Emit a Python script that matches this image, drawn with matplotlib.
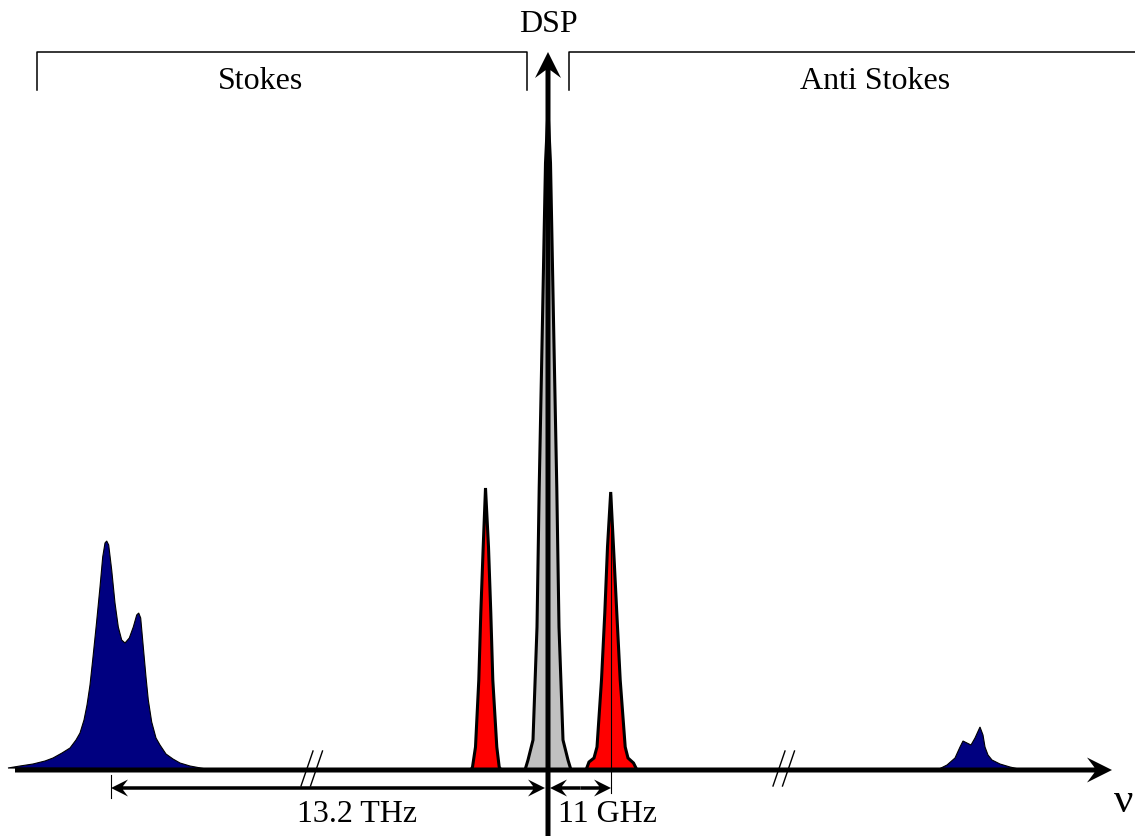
import matplotlib.pyplot as plt
from matplotlib.patches import FancyArrow

# Spectral lines: column position and height above the baseline
stokes_x = [8, 20, 33, 45, 53, 62, 70, 76, 80, 84, 87, 90, 93, 96.5, 100, 102.7, 105,
            106.7, 108.7, 111.7, 115, 118.3, 121.7, 125, 129.3, 133.3, 136.7, 138.7,
            140.7, 143.3, 146, 148.3, 151.7, 156, 160, 166, 173, 180, 190, 206]
stokes_h = [2, 4, 6, 9, 12, 17, 22, 30, 37, 50, 65, 85, 113, 147, 183, 213, 227,
            229, 225, 200, 167, 143, 130, 127, 132, 143, 155, 157,
            152, 123, 93, 70, 48, 32, 25, 16, 11, 7, 4, 1]

antistokes_x = [937, 947, 955, 960, 963, 967, 971, 975, 980, 983, 985, 988, 992, 1000, 1010, 1023]
antistokes_h = [0, 5, 12, 23, 29, 27, 25, 32, 43, 35, 23, 15, 10, 6, 3, 0]

brillouin_s_x = [471, 472.5, 475.5, 478.8, 480.8, 483.2, 485.5, 488.5, 490.8, 492.8, 496.8, 499.2, 501]
brillouin_s_h = [0, 3, 23, 90, 157, 223, 282, 223, 157, 90, 23, 3, 0]

brillouin_as_x = [586, 589, 594, 597, 601.5, 604.8, 607.5, 610.7, 613.5, 616.8, 620.2,
                  625.2, 628, 633.5, 637]
brillouin_as_h = [0, 8, 12, 23, 90, 157, 223, 278, 223, 157, 90, 23, 12, 7, 0]

pump_x = [525, 528, 533, 537, 539.2, 542.5, 544.2, 545.5, 548, 550.5, 551.8, 553.5,
          556.8, 559, 563, 568, 571]
pump_h = [0, 10, 30, 143, 282, 450, 540, 607, 660, 607, 540, 450, 282, 143, 30, 10, 0]

# Frequency shift markers (Raman and Brillouin)
pump_pos = 548
raman_pos = 111
brillouin_pos = 611
break_pos = [312, 784]

region_labels = ["Stokes", "Anti Stokes"]
shift_labels = ["13.2 THz", "11 GHz"]

FONT = "Liberation Serif"

fig = plt.figure(figsize=(11.35, 8.36), dpi=100)
ax = fig.add_axes([0, 0, 1, 1])
ax.set_xlim(0, 1135)
ax.set_ylim(-66, 770)
ax.axis("off")


def arrow(x0, y0, dx, dy, width, head):
    ax.add_patch(FancyArrow(x0, y0, dx, dy, width=width, head_width=head,
                            head_length=head, length_includes_head=True,
                            overhang=0.3, color="black", lw=0, zorder=6))


# Peaks
ax.fill(stokes_x, stokes_h, facecolor="#000080", edgecolor="black", lw=0.8, zorder=2)
ax.fill(antistokes_x, antistokes_h, facecolor="#000080", edgecolor="black", lw=0.8, zorder=2)
for px, ph in [(brillouin_s_x, brillouin_s_h), (brillouin_as_x, brillouin_as_h)]:
    ax.fill(px, ph, facecolor="#ff0000", edgecolor="black", lw=2.2, zorder=3)
ax.fill(pump_x, pump_h, facecolor="#c0c0c0", edgecolor="black", lw=2.2, zorder=3)

# Axes with arrow heads
arrow(15, 0, 1112 - 15, 0, 5, 25)
arrow(pump_pos, -66, 0, 718 + 66, 5, 26)
ax.text(pump_pos, 738, "DSP", ha="center", va="baseline", fontsize=23, family=FONT)
ax.text(1124, -42, "\u03bd", ha="center", va="baseline", fontsize=31, family=FONT)

# Axis breaks
for bx in break_pos:
    for off in (0, 9.5):
        ax.plot([bx - 11 + off, bx + 1 + off], [-16, 19], color="black", lw=1.0, zorder=7)

# Stokes / Anti Stokes brackets
ax.plot([37, 37, 527, 527], [680, 718, 718, 680], color="black", lw=1.1)
ax.plot([569, 569, 1135], [680, 718, 718], color="black", lw=1.1)
ax.text(260, 681, region_labels[0], ha="center", va="baseline", fontsize=23, family=FONT)
ax.text(875, 681, region_labels[1], ha="center", va="baseline", fontsize=23, family=FONT)

# Shift dimension arrows
y_dim = -18
mid = (raman_pos + pump_pos - 3) / 2
arrow(mid, y_dim, raman_pos - mid, 0, 3.5, 17)
arrow(mid, y_dim, pump_pos - 3 - mid, 0, 3.5, 17)
mid = (pump_pos + 2 + brillouin_pos) / 2
arrow(mid, y_dim, pump_pos + 2 - mid, 0, 3.5, 17)
arrow(mid, y_dim, brillouin_pos - mid, 0, 3.5, 17)
ax.plot([raman_pos, raman_pos], [-5, -28], color="black", lw=0.8, zorder=7)
ax.plot([brillouin_pos, brillouin_pos], [max(brillouin_as_h) - 3, -23],
        color="black", lw=0.8, zorder=7)
ax.text(357, -52, shift_labels[0], ha="center", va="baseline", fontsize=23, family=FONT)
ax.text(607, -52, shift_labels[1], ha="center", va="baseline", fontsize=23, family=FONT)

fig.savefig("out.png", dpi=100, facecolor="white")
